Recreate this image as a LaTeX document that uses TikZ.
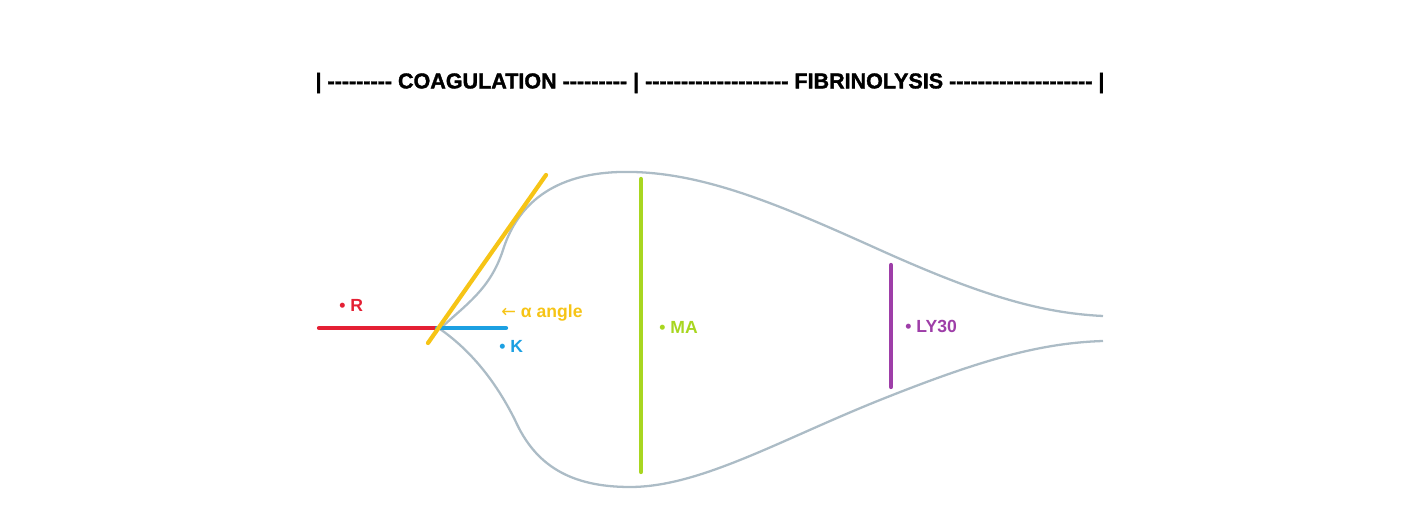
\documentclass[tikz,border=0pt]{standalone}
\usepackage{fontspec}
\setmainfont{Liberation Sans}
\newfontfamily\headfont[BoldFeatures={FakeBold=1.6}]{Liberation Sans}
\newfontfamily\symfont{DejaVu Sans}
\usepackage{xcolor}
\usetikzlibrary{positioning, calc}
\definecolor{rcol}{RGB}{228,32,52}
\definecolor{kcol}{RGB}{28,160,226}
\definecolor{acol}{RGB}{246,196,22}
\definecolor{macol}{RGB}{168,214,32}
\definecolor{lycol}{RGB}{158,62,168}
\definecolor{tracecol}{RGB}{172,188,198}
\newcommand{\dashrun}[1]{\foreach \d in {1,...,#1}{-}}
\tikzset{tegplot/.style={
    x=0.02cm, y=-0.02cm,
    trace/.style={draw=tracecol, line width=1.3pt},
    marker/.style={line width=2.4pt, line cap=round},
    tag/.style={font=\fontsize{10}{12}\selectfont\bfseries, inner sep=0pt, anchor=west},
    header/.style={font=\headfont\fontsize{12.25}{14}\selectfont\bfseries, inner sep=0pt},
}}
\begin{document}
\begin{tikzpicture}[tegplot]
    \useasboundingbox (0,0) rectangle (1406,526);
    % header
    \node[header] (head) at (710,83) {| \dashrun{9} COAGULATION \dashrun{9} | \dashrun{20} FIBRINOLYSIS \dashrun{20} |};
    % tracing
    \coordinate (start) at (440,329);
    \draw[trace] (start) .. controls (465,305) and (490,290) .. (503,250)
        .. controls (515,212) and (545,174) .. (620,172)
        .. controls (700,170) and (780,205) .. (880,250)
        .. controls (980,295) and (1040,313) .. (1103,316);
    \draw[trace] (start) .. controls (470,350) and (495,380) .. (515,420)
        .. controls (535,465) and (570,487) .. (630,487)
        .. controls (700,487) and (780,440) .. (880,400)
        .. controls (980,360) and (1040,343) .. (1103,341);
    % parameters
    \coordinate (r0) at (319,328);
    \coordinate (k0) at (437,328);
    \coordinate (k1) at (506,328);
    \coordinate (a0) at (428,343);
    \coordinate (a1) at (546,175);
    \coordinate (ma0) at (641,179);
    \coordinate (ma1) at (641,472);
    \coordinate (ly0) at (891,265);
    \coordinate (ly1) at (891,387);
    \draw[marker, rcol] (r0) -- (k0);
    \draw[marker, kcol] (k0) -- (k1);
    \draw[marker, acol] (a0) -- (a1);
    \draw[marker, macol] (ma0) -- (ma1);
    \draw[marker, lycol] (ly0) -- (ly1);
    % labels
    \node[tag, rcol] (rtag) at (339,305) {• R};
    \node[tag, acol] (atag) at (501,313) {{\symfont\mdseries ←} α angle};
    \node[tag, kcol] (ktag) at (499,346) {• K};
    \node[tag, macol] (matag) at (659,327) {• MA};
    \node[tag, lycol] (lytag) at (905,326) {• LY30};
\end{tikzpicture}
\end{document}
